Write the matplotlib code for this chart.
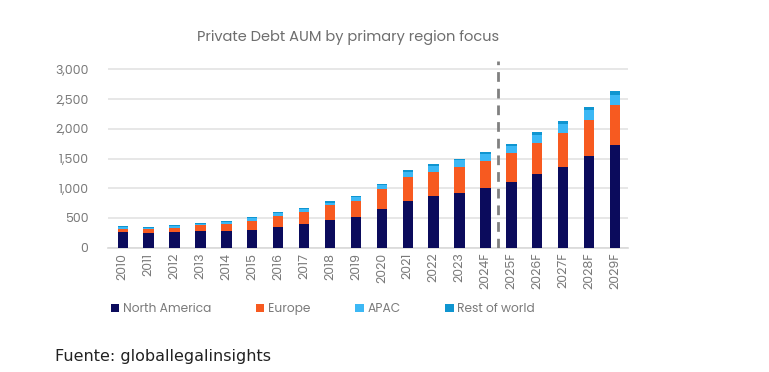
import matplotlib
matplotlib.use("Agg")
import matplotlib.pyplot as plt
import numpy as np

years = ["2010", "2011", "2012", "2013", "2014", "2015", "2016", "2017", "2018", "2019",
         "2020", "2021", "2022", "2023", "2024F", "2025F", "2026F", "2027F", "2028F", "2029F"]
north_america = [259, 247, 264, 281, 286, 297, 348, 404, 465, 516,
                 656, 790, 869, 919, 1008, 1099, 1234, 1361, 1546, 1721]
europe = [50, 62, 72, 95, 118, 152, 185, 201, 247, 269,
          325, 398, 409, 437, 449, 487, 531, 567, 600, 682]
apac = [39, 27, 34, 28, 28, 45, 45, 45, 44, 61,
        67, 84, 95, 112, 123, 123, 134, 151, 163, 158]
rest_of_world = [17, 17, 17, 16, 17, 17, 22, 22, 23, 23,
                 22, 34, 33, 28, 34, 39, 40, 45, 50, 67]
series_names = ["North America", "Europe", "APAC", "Rest of world"]
colors = ["#0b0b5c", "#f75a20", "#3cb8f5", "#0f95d0"]

plt.rcParams['font.family'] = ['Poppins', 'Lato', 'DejaVu Sans']
W, H = 769, 372
fig = plt.figure(figsize=(W / 100, H / 100), dpi=100)
ax = fig.add_axes([108 / W, 1 - 247.7 / H, (628 - 108) / W, (247.7 - 55) / H])

x = np.arange(len(years))
bottom = np.zeros(len(years))
for name, vals, c in zip(series_names, [north_america, europe, apac, rest_of_world], colors):
    vals = np.array(vals, dtype=float)
    ax.bar(x, vals, 0.4, bottom=bottom, color=c, label=name, zorder=3)
    bottom += vals

ax.set_xlim(-0.57, 19.5)
ax.set_ylim(0, 3000 * (247.7 - 55) / (247.7 - 69.3))
ax.set_yticks(np.arange(0, 3001, 500))
ax.set_yticklabels([f"{v:,}" for v in range(0, 3001, 500)])
ax.yaxis.grid(True, color="#e3e3e3", linewidth=1.2, zorder=0)
ax.set_axisbelow(True)
for s in ["top", "right", "left"]:
    ax.spines[s].set_visible(False)
ax.spines["bottom"].set_color("#d9d9d9")
ax.spines["bottom"].set_linewidth(1.2)
ax.tick_params(axis="both", length=0, colors="#7a7a7a", labelsize=9)
ax.tick_params(axis="y", pad=14)
ax.set_xticks(x)
ax.set_xticklabels(years, rotation=90)

# forecast divider
ax.axvline(14.5, ymin=0, ymax=(247.7 - 61) / (247.7 - 55), color="#808080",
           linestyle=(0, (3.5, 2.5)), linewidth=2, zorder=4)

ax.set_title("Private Debt AUM by primary region focus", color="#6e6e6e", fontsize=10.5,
             x=(348 - 108) / (628 - 108), pad=10)

leg = ax.legend(loc="upper left", bbox_to_anchor=(-0.016, -0.232), ncol=4, frameon=False,
                fontsize=8.8, handlelength=0.7, handleheight=0.7, handletextpad=0.3,
                columnspacing=3.65, labelcolor="#7a7a7a")

fig.text(55 / W, 1 - 357 / H, "Fuente: globallegalinsights", fontsize=11.5,
         family="DejaVu Sans", color="#222222", va="center", ha="left")

fig.savefig("out.png", dpi=100)
